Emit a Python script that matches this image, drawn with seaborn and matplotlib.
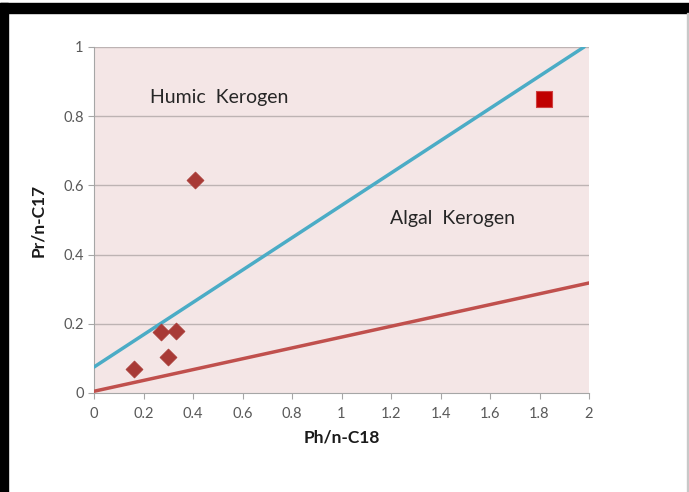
import matplotlib
matplotlib.use("Agg")
import matplotlib.pyplot as plt
import seaborn as sns
import pandas as pd
from matplotlib.patches import Rectangle

# Data
diamond_x = [0.16, 0.27, 0.33, 0.30, 0.41]
diamond_y = [0.07, 0.175, 0.18, 0.105, 0.615]
square_x = [1.82]
square_y = [0.85]
humic_line_x = [0.0, 1.98]
humic_line_y = [0.075, 1.0]
algal_line_x = [0.0, 2.0]
algal_line_y = [0.005, 0.318]
x_ticks = [0, 0.2, 0.4, 0.6, 0.8, 1, 1.2, 1.4, 1.6, 1.8, 2]
y_ticks = [0, 0.2, 0.4, 0.6, 0.8, 1]

sns.set_theme(style="white")
plt.rcParams['font.family'] = ['Lato', 'DejaVu Sans']

fig = plt.figure(figsize=(6.89, 4.92), dpi=100)
ax = fig.add_axes([94/689, 99/492, 495/689, 346/492])
ax.set_facecolor("#F4E6E6")

for yt in y_ticks[1:]:
    ax.axhline(yt, color="#BDB3B3", lw=1.0, zorder=0)

line_df1 = pd.DataFrame({"x": humic_line_x, "y": humic_line_y})
line_df2 = pd.DataFrame({"x": algal_line_x, "y": algal_line_y})
sns.lineplot(data=line_df1, x="x", y="y", color="#4BACC6", lw=2.5, ax=ax, zorder=3)
sns.lineplot(data=line_df2, x="x", y="y", color="#C0504D", lw=2.5, ax=ax, zorder=3)

pts = pd.DataFrame({"x": diamond_x, "y": diamond_y})
sns.scatterplot(data=pts, x="x", y="y", marker="D", s=75, color="#A83A36",
                edgecolor="#A83A36", linewidth=0.5, ax=ax, zorder=4)
sq = pd.DataFrame({"x": square_x, "y": square_y})
sns.scatterplot(data=sq, x="x", y="y", marker="s", s=120, color="#C00000",
                edgecolor="#D04040", linewidth=0.8, ax=ax, zorder=4)

ax.set_xlim(0, 2)
ax.set_ylim(0, 1)
ax.set_xticks(x_ticks)
ax.set_xticklabels([f"{t:g}" for t in x_ticks])
ax.set_yticks(y_ticks)
ax.set_yticklabels([f"{t:g}" for t in y_ticks])
ax.tick_params(axis="both", colors="#595959", labelsize=10.5, length=4, width=0.8,
               direction="out", bottom=True, left=True)
ax.tick_params(axis="both", color="#A6A6A6")
ax.tick_params(axis="x", pad=6)
for s in ["top", "right"]:
    ax.spines[s].set_visible(False)
for s in ["left", "bottom"]:
    ax.spines[s].set_color("#A6A6A6")
    ax.spines[s].set_linewidth(0.8)

ax.set_xlabel("Ph/n-C18", fontsize=12.5, fontweight="bold", color="#1A1A1A", labelpad=6)
ax.set_ylabel("Pr/n-C17", fontsize=12.5, fontweight="bold", color="#1A1A1A", labelpad=12)

ax.text(0.226, 0.855, "Humic  Kerogen", fontsize=14, color="#262626", va="center", ha="left")
ax.text(1.196, 0.503, "Algal  Kerogen", fontsize=14, color="#262626", va="center", ha="left")

# frame
fig.patches.append(Rectangle((0, 0), 8/689, 489/492, transform=fig.transFigure,
                             color="black", zorder=10))
fig.patches.append(Rectangle((0, 479/492), 689/689, 10/492, transform=fig.transFigure,
                             color="black", zorder=10))
fig.patches.append(Rectangle((687/689, 0), 1.5/689, 479/492, transform=fig.transFigure,
                             color="#C8C8C8", zorder=10))

fig.savefig("out.png", dpi=100)
